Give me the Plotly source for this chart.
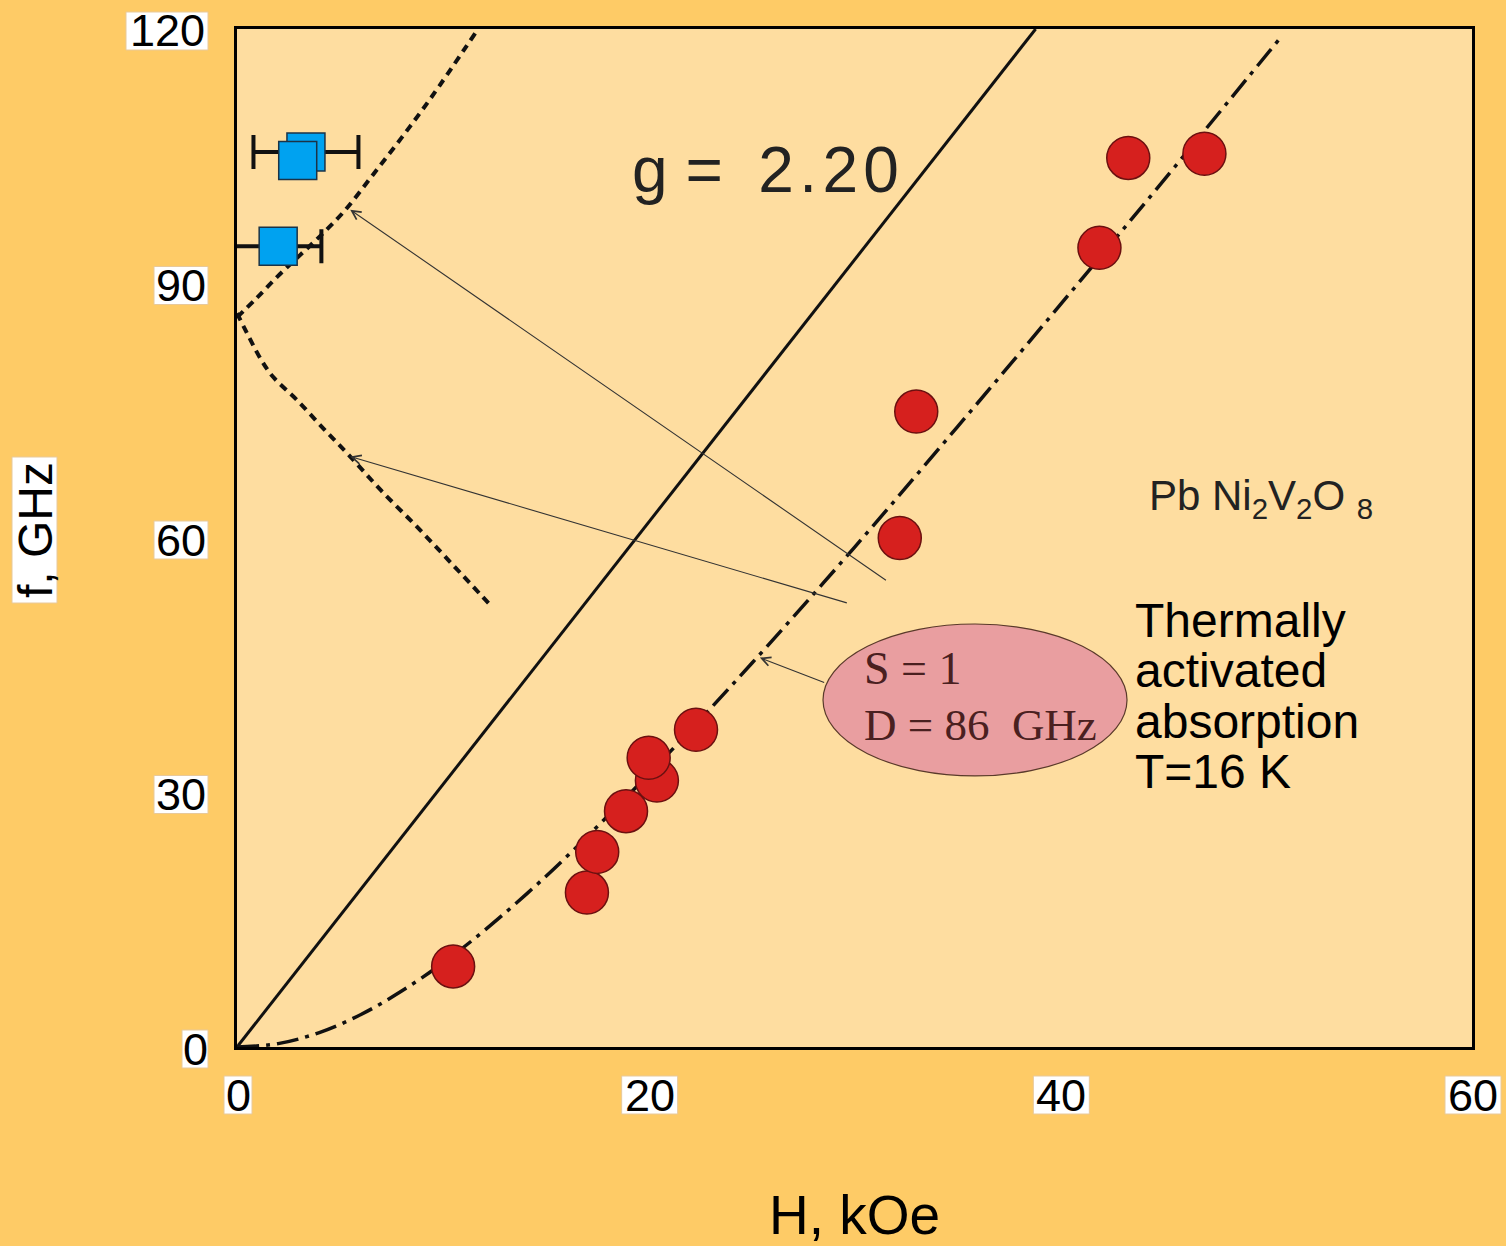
import plotly.graph_objects as go

# ---- data ----
red_h = [10.5, 17.0, 17.5, 18.9, 20.4, 20.0, 22.3, 32.2, 33.0, 41.9, 43.3, 47.0]
red_f = [9.5, 18.2, 23.0, 27.8, 31.4, 34.1, 37.4, 60.0, 74.9, 94.2, 104.8, 105.3]

blue_h = [3.35, 2.95, 2.0]
blue_f = [105.5, 104.5, 94.4]
blue_err = [2.55, 0.0, 2.1]

solid_h = [0, 38.8]
solid_f = [0, 120]

dd_h = [0, 2, 4, 6, 8, 10, 12, 15, 18, 21, 25, 30, 35, 40, 45, 50.6]
dd_f = [0, 0.4, 1.7, 3.8, 6.6, 9.9, 13.7, 20.1, 27.2, 34.7, 45.2, 58.9, 73.1, 87.5, 102.1, 118.7]

up_h = [0, 1.0, 2.0, 3.0, 4.0, 5.2, 6.6, 8.0, 9.4, 11.6]
up_f = [86.0, 88.4, 90.9, 93.2, 95.5, 98.5, 102.8, 107.2, 111.8, 119.6]

lo_h = [0, 0.6, 1.2, 1.75, 2.9, 4.2, 5.5, 7.0, 8.75, 10.5, 12.3]
lo_f = [86.5, 83.6, 80.9, 79.0, 76.3, 72.9, 69.6, 65.6, 61.3, 56.8, 52.1]

x_ticks = [0, 20, 40, 60]
y_ticks = [0, 30, 60, 90, 120]
X_MAX, Y_MAX = 60, 120

PAPER = "rgb(254,203,102)"
PLOTBG = "rgb(254,221,160)"
INK = "#111111"

W, H = 1506, 1246
L, R, T, B = 237, 34, 29, 199
PW, PH = W - L - R, H - T - B

def px_x(px):
    return (px - L) / PW

def px_y(py):
    return (H - B - py) / PH

fig = go.Figure()

fig.add_trace(go.Scatter(x=solid_h, y=solid_f, mode="lines",
                         line=dict(color=INK, width=3), hoverinfo="skip"))
fig.add_trace(go.Scatter(x=dd_h, y=dd_f, mode="lines", line_shape="spline",
                         line=dict(color=INK, width=3.5, dash="22px,7px,4px,7px"),
                         hoverinfo="skip"))
fig.add_trace(go.Scatter(x=up_h, y=up_f, mode="lines", line_shape="spline",
                         line=dict(color=INK, width=4, dash="8px,6px"), hoverinfo="skip"))
fig.add_trace(go.Scatter(x=lo_h, y=lo_f, mode="lines", line_shape="spline",
                         line=dict(color=INK, width=4, dash="8px,6px"), hoverinfo="skip"))

# error bars (under squares)
fig.add_trace(go.Scatter(x=blue_h, y=blue_f, mode="markers",
                         marker=dict(size=1, opacity=0),
                         error_x=dict(type="data", array=blue_err, symmetric=True,
                                      color=INK, thickness=4, width=17),
                         cliponaxis=False, hoverinfo="skip"))
fig.add_trace(go.Scatter(x=blue_h, y=blue_f, mode="markers",
                         marker=dict(symbol="square", size=38, color="rgb(0,162,240)",
                                     line=dict(color="#1b3347", width=1.5)),
                         cliponaxis=False))
fig.add_trace(go.Scatter(x=red_h, y=red_f, mode="markers",
                         marker=dict(symbol="circle", size=43, color="rgb(214,32,30)",
                                     line=dict(color="#6b1010", width=1.5))))

shapes = []
annotations = []

# ellipse
shapes.append(dict(type="circle", xref="x", yref="y", x0=28.47, x1=43.24, y0=31.95, y1=49.86,
                   fillcolor="rgb(233,158,160)", line=dict(color="#5a3a2a", width=1.2),
                   layer="below"))

# tick label boxes + text
for v in y_ticks:
    s = str(v)
    wpx = 26 + 28 * (len(s) - 1)
    cy = T + (1 - v / Y_MAX) * PH + 2
    shapes.append(dict(type="rect", xref="paper", yref="paper",
                       x0=px_x(208 - wpx), x1=px_x(208), y0=px_y(cy + 19), y1=px_y(cy - 19),
                       fillcolor="white", line=dict(color="#e8c99a", width=1), layer="above"))
    annotations.append(dict(xref="paper", yref="paper", x=px_x(208 - wpx / 2), y=px_y(cy),
                            text=s, showarrow=False, xanchor="center", yanchor="middle",
                            font=dict(family="Liberation Sans, Arial", size=45, color="black")))
for v in x_ticks:
    s = str(v)
    wpx = 28 + 28 * (len(s) - 1)
    cx = L + v / X_MAX * PW + 1
    cy = 1095
    shapes.append(dict(type="rect", xref="paper", yref="paper",
                       x0=px_x(cx - wpx / 2), x1=px_x(cx + wpx / 2), y0=px_y(cy + 19), y1=px_y(cy - 19),
                       fillcolor="white", line=dict(color="#e8c99a", width=1), layer="above"))
    annotations.append(dict(xref="paper", yref="paper", x=px_x(cx), y=px_y(cy),
                            text=s, showarrow=False, xanchor="center", yanchor="middle",
                            font=dict(family="Liberation Sans, Arial", size=45, color="black")))

# axis titles
shapes.append(dict(type="rect", xref="paper", yref="paper",
                   x0=px_x(12), x1=px_x(57), y0=px_y(603), y1=px_y(457),
                   fillcolor="white", line=dict(color="#e8c99a", width=1), layer="above"))
annotations.append(dict(xref="paper", yref="paper", x=px_x(35), y=px_y(530),
                        text="f, GHz", textangle=-90, showarrow=False,
                        xanchor="center", yanchor="middle",
                        font=dict(family="Liberation Sans, Arial", size=48, color="black")))
annotations.append(dict(xref="paper", yref="paper", x=px_x(854), y=px_y(1215),
                        text="H, kOe", showarrow=False, xanchor="center", yanchor="middle",
                        font=dict(family="Liberation Sans, Arial", size=55, color="black")))

# in-plot texts
HS = "\u200a"
annotations.append(dict(xref="x", yref="y", x=25.7, y=103.4,
                        text="g =  2" + HS + "." + HS + "2" + HS + "0", showarrow=False,
                        xanchor="center", yanchor="middle",
                        font=dict(family="Liberation Sans, Arial", size=64, color="#222222")))
annotations.append(dict(xref="x", yref="y", x=44.2, y=64.6,
                        text="Pb Ni<sub>2</sub>V<sub>2</sub>O <sub>8</sub>", showarrow=False,
                        xanchor="left", yanchor="middle",
                        font=dict(family="Liberation Sans, Arial", size=42, color="#222222")))
for txt, yy in [("Thermally", 50.3), ("activated", 44.4), ("absorption", 38.4), ("T=16 K", 32.5)]:
    annotations.append(dict(xref="x", yref="y", x=43.55, y=yy, text=txt, showarrow=False,
                            xanchor="left", yanchor="middle",
                            font=dict(family="Liberation Sans, Arial", size=48, color="black")))
annotations.append(dict(xref="x", yref="y", x=30.35, y=44.6, text="S = 1", showarrow=False,
                        xanchor="left", yanchor="middle",
                        font=dict(family="Liberation Serif, Times New Roman", size=46, color="#4a2020")))
annotations.append(dict(xref="x", yref="y", x=30.35, y=38.0, text="D = 86  GHz", showarrow=False,
                        xanchor="left", yanchor="middle",
                        font=dict(family="Liberation Serif, Times New Roman", size=45, color="#4a2020")))

# arrows
for hx, hy, tx, ty in [(5.5, 98.7, 31.6, 54.9), (5.5, 69.6, 29.7, 52.3), (25.4, 45.9, 28.6, 42.9)]:
    annotations.append(dict(xref="x", yref="y", axref="x", ayref="y", x=hx, y=hy, ax=tx, ay=ty,
                            text="", showarrow=True, arrowhead=5, arrowsize=1.6, arrowwidth=1.1,
                            arrowcolor="#333333"))

fig.update_layout(
    width=W, height=H,
    margin=dict(l=L, r=R, t=T, b=B),
    paper_bgcolor=PAPER, plot_bgcolor=PLOTBG,
    showlegend=False,
    shapes=shapes, annotations=annotations,
    xaxis=dict(range=[0, X_MAX], showgrid=False, zeroline=False, showticklabels=False,
               ticks="", showline=True, linecolor="black", linewidth=3, mirror=True,
               tickvals=x_ticks),
    yaxis=dict(range=[0, Y_MAX], showgrid=False, zeroline=False, showticklabels=False,
               ticks="", showline=True, linecolor="black", linewidth=3, mirror=True,
               tickvals=y_ticks),
)

fig.write_html("out.html",
               config={"displayModeBar": False},
               post_script="document.body.style.margin='0';document.body.style.overflow='hidden';"
                           "document.body.style.background='rgb(254,203,102)';")
